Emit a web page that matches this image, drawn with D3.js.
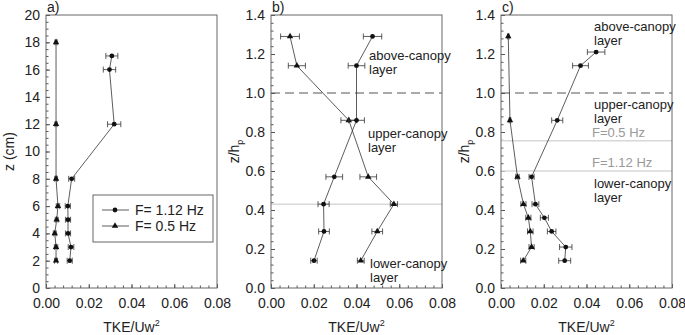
<!DOCTYPE html>
<html>
<head>
<meta charset="utf-8">
<script src="https://cdn.jsdelivr.net/npm/d3@7"></script>
<style>
  body { margin: 0; background: #fff; }
  svg { font-family: "Liberation Sans", Arial, sans-serif; }
  .axis path { display: none; }
  .axis line { stroke: #555; }
  .axis text { font-size: 14px; fill: #222; }
</style>
</head>
<body>
<svg id="chart" width="685" height="335"></svg>
<script>
// panel a: z (cm) vs TKE/Uw^2
var aZHigh = [17, 16, 12, 8, 6, 5, 4, 3, 2];
var aTkeHigh = [0.0308, 0.0297, 0.0319, 0.0120, 0.0102, 0.0103, 0.0103, 0.0117, 0.0111];
var aErrHigh = [0.0028, 0.0029, 0.0031, 0.0014, 0.0012, 0.0012, 0.0012, 0.0013, 0.0012];
var aZLow = [18, 12, 8, 6, 5, 4, 3, 2];
var aTkeLow = [0.0047, 0.0047, 0.0047, 0.0056, 0.0050, 0.0041, 0.0047, 0.0047];
var aErrLow = [0.0005, 0.0005, 0.0006, 0.0008, 0.0007, 0.0007, 0.0008, 0.0007];

// panel b: z/hp
var bZ = [1.29, 1.14, 0.86, 0.57, 0.43, 0.29, 0.14];
var bTkeTri = [0.0089, 0.0121, 0.0364, 0.0455, 0.0575, 0.0497, 0.0420];
var bErrTri = [0.0044, 0.0040, 0.0037, 0.0039, 0.0017, 0.0025, 0.0016];
var bTkeDot = [0.0475, 0.0400, 0.0400, 0.0296, 0.0246, 0.0248, 0.0201];
var bErrDot = [0.0043, 0.0039, 0.0037, 0.0039, 0.0026, 0.0025, 0.0015];

// panel c
var cZDot = [1.21, 1.14, 0.86, 0.57, 0.43, 0.36, 0.29, 0.21, 0.14];
var cTkeDot = [0.0445, 0.0372, 0.0263, 0.0143, 0.0161, 0.0203, 0.0237, 0.0303, 0.0298];
var cErrDot = [0.0041, 0.0037, 0.0026, 0.0012, 0.0016, 0.0019, 0.0020, 0.0029, 0.0028];
var cZTri = [1.29, 0.86, 0.57, 0.43, 0.36, 0.29, 0.21, 0.14];
var cTkeTri = [0.0034, 0.0042, 0.0077, 0.0105, 0.0128, 0.0137, 0.0143, 0.0104];
var cErrTri = [0.0004, 0.0004, 0.0008, 0.0012, 0.0012, 0.0013, 0.0012, 0.0012];

var xTicks = [0, 0.02, 0.04, 0.06, 0.08];
var xLabel = 'TKE/Uw';

var svg = d3.select('#chart');
var top_ = 15, bottom = 288, plotW = 171;

function zip(zs, xs, es)
{
  return zs.map((z, i) => ({z: z, x: xs[i], e: es[i]}));
}

function drawPanel(opt)
{
  var g = svg.append('g').attr('transform', 'translate(' + opt.left + ',0)');
  var x = d3.scaleLinear().domain([0, 0.08]).range([0, plotW]);
  var y = d3.scaleLinear().domain(opt.yDomain).range([bottom, top_]);

  // minor ticks
  g.append('g').attr('class', 'axis')
    .attr('transform', 'translate(0,' + bottom + ')')
    .call(d3.axisBottom(x).tickValues(d3.range(0, 0.0801, 0.004)).tickSize(-2.5).tickFormat(''));
  g.append('g').attr('class', 'axis')
    .call(d3.axisLeft(y).tickValues(d3.range(opt.yDomain[0], opt.yDomain[1] + 1e-6, opt.yMinor)).tickSize(-2.5).tickFormat(''));

  // major ticks
  g.append('g').attr('class', 'axis')
    .attr('transform', 'translate(0,' + bottom + ')')
    .call(d3.axisBottom(x).tickValues(xTicks).tickSize(-4).tickPadding(10).tickFormat(d3.format('.2f')));
  g.append('g').attr('class', 'axis')
    .call(d3.axisLeft(y).tickValues(opt.yTicks).tickSize(-4).tickPadding(6).tickFormat(opt.yFormat));

  // reference lines
  (opt.grayLines || []).forEach(v => {
    g.append('line').attr('x1', 0).attr('x2', plotW).attr('y1', y(v)).attr('y2', y(v))
      .attr('stroke', '#d8d8d8').attr('stroke-width', 1.5);
  });
  if (opt.dashed)
  {
    g.append('line').attr('x1', 0).attr('x2', plotW).attr('y1', y(1)).attr('y2', y(1))
      .attr('stroke', '#555').attr('stroke-width', 1).attr('stroke-dasharray', '9,5');
  }

  // frame
  g.append('rect').attr('x', 0).attr('y', top_).attr('width', plotW).attr('height', bottom - top_)
    .attr('fill', 'none').attr('stroke', '#666').attr('stroke-width', 1);

  var line = d3.line().x(d => x(d.x)).y(d => y(d.z));

  opt.series.forEach(s => {
    g.append('path').datum(s.data).attr('d', line)
      .attr('fill', 'none').attr('stroke', '#333').attr('stroke-width', 0.8);

    var pts = g.append('g').selectAll('g').data(s.data).join('g');
    pts.append('line')
      .attr('x1', d => x(d.x - d.e)).attr('x2', d => x(d.x + d.e))
      .attr('y1', d => y(d.z)).attr('y2', d => y(d.z))
      .attr('stroke', '#333').attr('stroke-width', 0.8);
    pts.append('line')
      .attr('x1', d => x(d.x - d.e)).attr('x2', d => x(d.x - d.e))
      .attr('y1', d => y(d.z) - 3).attr('y2', d => y(d.z) + 3)
      .attr('stroke', '#333').attr('stroke-width', 0.8);
    pts.append('line')
      .attr('x1', d => x(d.x + d.e)).attr('x2', d => x(d.x + d.e))
      .attr('y1', d => y(d.z) - 3).attr('y2', d => y(d.z) + 3)
      .attr('stroke', '#333').attr('stroke-width', 0.8);
    pts.append('path')
      .attr('transform', d => 'translate(' + x(d.x) + ',' + y(d.z) + ')')
      .attr('d', d3.symbol().type(s.tri ? d3.symbolTriangle : d3.symbolCircle).size(18))
      .attr('fill', '#111');
  });

  // panel label
  g.append('text').attr('x', 1).attr('y', 12).attr('font-size', 14).attr('fill', '#222').text(opt.label);

  // axis titles
  var xt = g.append('text').attr('x', plotW / 2).attr('y', 332).attr('text-anchor', 'middle')
    .attr('font-size', 14).attr('fill', '#222');
  xt.append('tspan').text(xLabel);
  xt.append('tspan').attr('font-size', 9).attr('dy', -6).text('2');

  var yt = g.append('text').attr('transform', 'translate(' + opt.yTitleX + ',' + ((top_ + bottom) / 2) + ') rotate(-90)')
    .attr('text-anchor', 'middle').attr('dy', '0.35em').attr('font-size', 14).attr('fill', '#222');
  yt.append('tspan').text(opt.yTitle);
  if (opt.yTitleSub) yt.append('tspan').attr('font-size', 9).attr('dy', 4).text(opt.yTitleSub);

  (opt.notes || []).forEach(n => {
    g.append('text').attr('x', n.x).attr('y', n.y).attr('font-size', 13)
      .attr('fill', n.gray ? '#999' : '#222').text(n.t);
  });

  return g;
}

var ga = drawPanel({
  left: 46, label: 'a)', yDomain: [0, 20], yTicks: d3.range(0, 21, 2), yMinor: 0.5,
  yFormat: d3.format('d'), yTitle: 'z (cm)', yTitleX: -37,
  series: [
    {data: zip(aZHigh, aTkeHigh, aErrHigh), tri: false},
    {data: zip(aZLow, aTkeLow, aErrLow), tri: true}
  ]
});

// legend
var lg = ga.append('g').attr('transform', 'translate(47,195)');
lg.append('rect').attr('width', 120).attr('height', 47).attr('fill', '#fff').attr('stroke', '#666');
[['F= 1.12 Hz', false], ['F= 0.5 Hz', true]].forEach((r, i) => {
  var yy = 15 + i * 16;
  lg.append('line').attr('x1', 9).attr('x2', 36).attr('y1', yy).attr('y2', yy).attr('stroke', '#333').attr('stroke-width', 0.8);
  lg.append('path').attr('transform', 'translate(22,' + yy + ')')
    .attr('d', d3.symbol().type(r[1] ? d3.symbolTriangle : d3.symbolCircle).size(18)).attr('fill', '#111');
  lg.append('text').attr('x', 42).attr('y', yy + 5).attr('font-size', 14).attr('fill', '#222').text(r[0]);
});

drawPanel({
  left: 271, label: 'b)', yDomain: [0, 1.4], yTicks: d3.range(0, 1.41, 0.2), yMinor: 0.04,
  yFormat: d3.format('.1f'), yTitle: 'z/h', yTitleSub: 'p', yTitleX: -37,
  grayLines: [0.43], dashed: true,
  series: [
    {data: zip(bZ, bTkeTri, bErrTri), tri: true},
    {data: zip(bZ, bTkeDot, bErrDot), tri: false}
  ],
  notes: [
    {t: 'above-canopy', x: 98, y: 60}, {t: 'layer', x: 98, y: 74},
    {t: 'upper-canopy', x: 97, y: 138}, {t: 'layer', x: 97, y: 152},
    {t: 'lower-canopy', x: 99, y: 268}, {t: 'layer', x: 99, y: 282}
  ]
});

drawPanel({
  left: 501, label: 'c)', yDomain: [0, 1.4], yTicks: d3.range(0, 1.41, 0.2), yMinor: 0.04,
  yFormat: d3.format('.1f'), yTitle: 'z/h', yTitleSub: 'p', yTitleX: -37,
  grayLines: [0.755, 0.6], dashed: true,
  series: [
    {data: zip(cZDot, cTkeDot, cErrDot), tri: false},
    {data: zip(cZTri, cTkeTri, cErrTri), tri: true}
  ],
  notes: [
    {t: 'above-canopy', x: 93, y: 31}, {t: 'layer', x: 93, y: 45},
    {t: 'upper-canopy', x: 93, y: 109}, {t: 'layer', x: 93, y: 123},
    {t: 'F=0.5 Hz', x: 91, y: 137, gray: true},
    {t: 'F=1.12 Hz', x: 91, y: 167, gray: true},
    {t: 'lower-canopy', x: 93, y: 188}, {t: 'layer', x: 93, y: 202}
  ]
});
</script>
</body>
</html>
